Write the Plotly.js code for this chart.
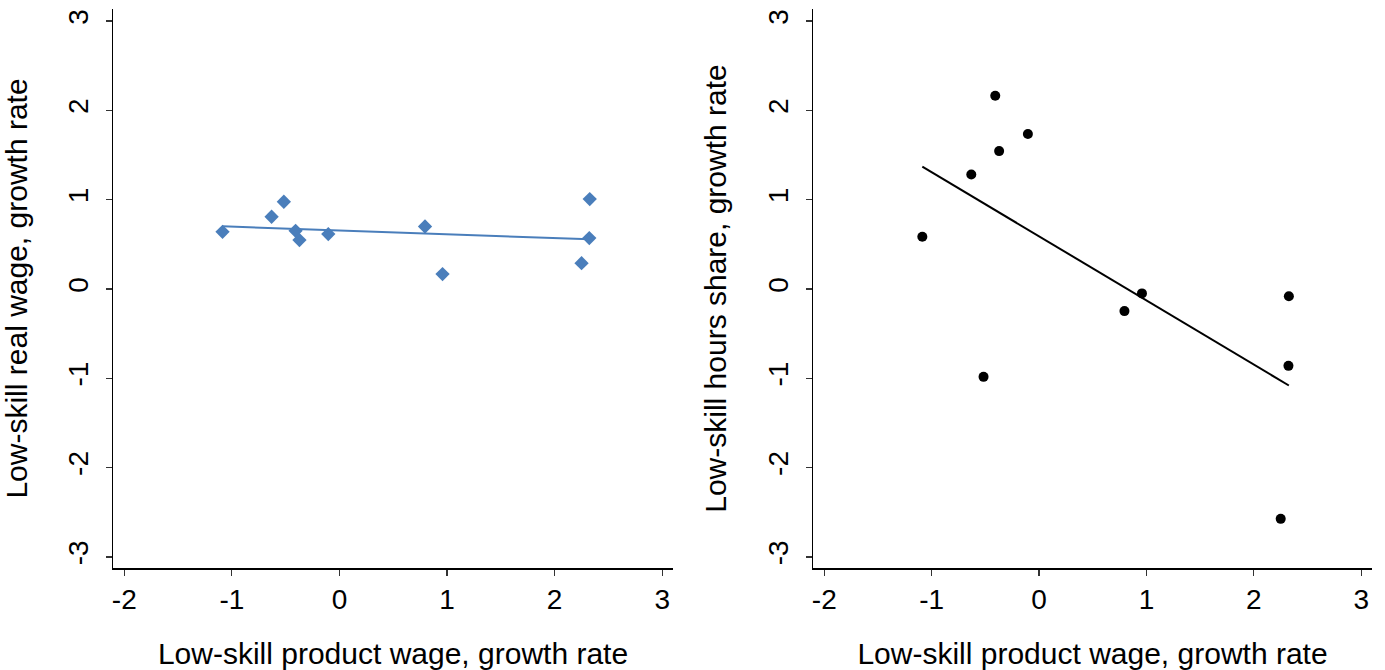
<!DOCTYPE html>
<html>
<head>
<meta charset="utf-8">
<script src="https://cdn.plot.ly/plotly-3.0.1.min.js"></script>
<style>
  html, body { margin: 0; padding: 0; background: #fff; }
  #chart { width: 1385px; height: 670px; }
</style>
</head>
<body>
<div id="chart"></div>
<script>
// Low-skill product wage growth rate (shared x)
const productWage = [-1.087, -0.631, -0.517, -0.408, -0.372, -0.104, 0.795, 0.958, 2.25, 2.322, 2.326];
// Left panel: low-skill real wage growth rate
const realWage = [0.641, 0.809, 0.977, 0.652, 0.548, 0.615, 0.70, 0.167, 0.29, 0.57, 1.007];
// Right panel: low-skill hours share growth rate
const hoursShare = [0.585, 1.283, -0.983, 2.164, 1.544, 1.735, -0.247, -0.049, -2.573, -0.86, -0.08];

const yTickVals = [-3, -2, -1, 0, 1, 2, 3];
const yTickText = ['-3', '-2', '-1', '0', '1', '2', '3'];
const xTickVals = [-2, -1, 0, 1, 2, 3];
const xTickText = ['-2', '-1', '0', '1', '2', '3'];
const xTitle = 'Low-skill product wage, growth rate';
const yTitleLeft = 'Low-skill real wage, growth rate';
const yTitleRight = 'Low-skill hours share, growth rate';

function olsLine(xs, ys) {
  const n = xs.length;
  const mx = xs.reduce((a, b) => a + b, 0) / n;
  const my = ys.reduce((a, b) => a + b, 0) / n;
  let sxy = 0, sxx = 0;
  for (let i = 0; i < n; i++) { sxy += (xs[i] - mx) * (ys[i] - my); sxx += (xs[i] - mx) ** 2; }
  const b = sxy / sxx, a = my - b * mx;
  const x0 = Math.min(...xs), x1 = Math.max(...xs);
  return { x: [x0, x1], y: [a + b * x0, a + b * x1] };
}

const fitL = olsLine(productWage, realWage);
const fitR = olsLine(productWage, hoursShare);
const blue = '#4a7ebb';

const traces = [
  { x: productWage, y: realWage, type: 'scatter', mode: 'markers', xaxis: 'x', yaxis: 'y',
    marker: { symbol: 'diamond', size: 11, color: blue }, hoverinfo: 'skip' },
  { x: fitL.x, y: fitL.y, type: 'scatter', mode: 'lines', xaxis: 'x', yaxis: 'y',
    line: { color: blue, width: 2 }, hoverinfo: 'skip' },
  { x: productWage, y: hoursShare, type: 'scatter', mode: 'markers', xaxis: 'x2', yaxis: 'y2',
    marker: { symbol: 'circle', size: 10, color: '#000' }, hoverinfo: 'skip' },
  { x: fitR.x, y: fitR.y, type: 'scatter', mode: 'lines', xaxis: 'x2', yaxis: 'y2',
    line: { color: '#000', width: 2 }, hoverinfo: 'skip' }
];

const fontFam = 'Liberation Sans, Arial, sans-serif';
function xa(domain, anchor) {
  return {
    domain: domain, anchor: anchor, range: [-2.105, 3.1], tickvals: xTickVals, ticktext: xTickText,
    showline: true, linecolor: '#000', linewidth: 1.5, ticks: 'outside', ticklen: 6, tickwidth: 1.2,
    tickcolor: '#333', showgrid: false, zeroline: false, automargin: false,
    tickfont: { size: 28, color: '#000', family: fontFam },
    title: { text: xTitle, font: { size: 30, color: '#000', family: fontFam }, standoff: 34 }
  };
}
function ya(anchor, title) {
  return {
    anchor: anchor, domain: [0, 1], range: [-3.123, 3.135], tickvals: yTickVals, ticktext: yTickText,
    showline: true, linecolor: '#000', linewidth: 1.5, ticks: 'outside', ticklen: 6, tickwidth: 1.2,
    tickcolor: '#333', showgrid: false, zeroline: false, automargin: false, tickangle: -90,
    ticklabelstandoff: 6,
    tickfont: { size: 28, color: '#000', family: fontFam },
    title: { text: title, font: { size: 30, color: '#000', family: fontFam }, standoff: 28 }
  };
}

const layout = {
  width: 1385, height: 670,
  margin: { l: 113, r: 13, t: 9, b: 102 },
  paper_bgcolor: '#fff', plot_bgcolor: '#fff',
  showlegend: false,
  font: { family: fontFam, color: '#000' },
  xaxis: xa([0, 560 / 1259], 'y'),
  yaxis: ya('x', yTitleLeft),
  xaxis2: xa([700 / 1259, 1], 'y2'),
  yaxis2: ya('x2', yTitleRight)
};

Plotly.newPlot('chart', traces, layout, { displayModeBar: false, staticPlot: true });
</script>
</body>
</html>
